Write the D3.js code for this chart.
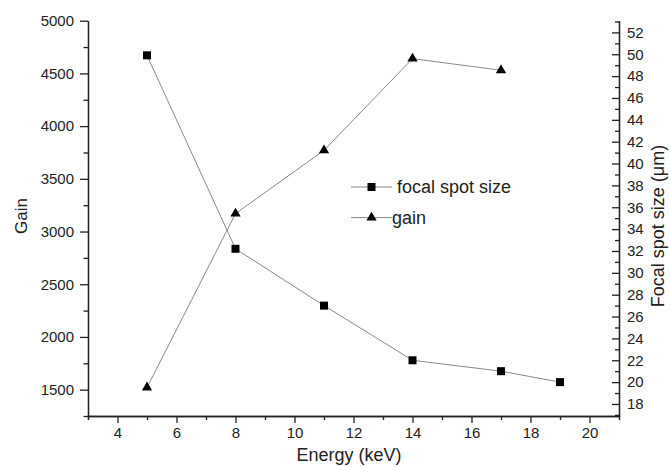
<!DOCTYPE html>
<html lang="en">
<head>
    <meta charset="UTF-8">
    <title>Gain and focal spot size vs energy</title>
    <script src="https://d3js.org/d3.v7.min.js"></script>
    <style>
        body { margin: 0; background: #fff; }
        svg { display: block; font-family: "Liberation Sans", Arial, sans-serif; }
        .axis path, .axis line { stroke: #222; stroke-width: 1.3; }
        .axis text { font-size: 15px; fill: #222; }
    </style>
</head>
<body>
    <svg width="670" height="467"></svg>

    <script>
        // Data
        const energy = [5, 8, 11, 14, 17, 19];
        const focalSize = [49.9, 32.2, 27.0, 22.0, 21.0, 20.0];
        const gainEnergy = [5, 8, 11, 14, 17];
        const gain = [1520, 3170, 3770, 4640, 4530];

        // Tick values
        const xTicks = [4, 6, 8, 10, 12, 14, 16, 18, 20];
        const xMinor = [3, 5, 7, 9, 11, 13, 15, 17, 19, 21];
        const gainTicks = [1500, 2000, 2500, 3000, 3500, 4000, 4500, 5000];
        const gainMinor = [1250, 1750, 2250, 2750, 3250, 3750, 4250, 4750];
        const focalTicks = [18, 20, 22, 24, 26, 28, 30, 32, 34, 36, 38, 40, 42, 44, 46, 48, 50, 52];
        const focalMinor = [17, 19, 21, 23, 25, 27, 29, 31, 33, 35, 37, 39, 41, 43, 45, 47, 49, 51, 53];

        const legendItems = [
            { label: " focal spot size", symbol: d3.symbolSquare, size: 64 },
            { label: "gain", symbol: d3.symbolTriangle, size: 46 }
        ];

        const margin = { left: 88, right: 619, top: 20.7, bottom: 416 };

        const x = d3.scaleLinear().domain([3, 21]).range([margin.left, margin.right]);
        const yGain = d3.scaleLinear().domain([1250, 5000]).range([margin.bottom, margin.top]);
        const yFocal = d3.scaleLinear().domain([16.9, 53.07]).range([margin.bottom, margin.top]);

        const svg = d3.select("svg");

        // x axis
        svg.append("g").attr("class", "axis")
            .attr("transform", `translate(0,${margin.bottom})`)
            .call(d3.axisBottom(x).tickValues(xMinor).tickSize(4).tickFormat(""));
        svg.append("g").attr("class", "axis")
            .attr("transform", `translate(0,${margin.bottom})`)
            .call(d3.axisBottom(x).tickValues(xTicks).tickSize(7).tickSizeOuter(0).tickPadding(4));

        // left axis (gain)
        svg.append("g").attr("class", "axis")
            .attr("transform", `translate(${margin.left},0)`)
            .call(d3.axisLeft(yGain).tickValues(gainMinor).tickSize(4.5).tickSizeOuter(0).tickFormat(""));
        svg.append("g").attr("class", "axis")
            .attr("transform", `translate(${margin.left},0)`)
            .call(d3.axisLeft(yGain).tickValues(gainTicks).tickFormat(d3.format("d"))
                .tickSize(8).tickSizeOuter(0).tickPadding(6));

        // right axis (focal spot size), ticks point inward
        svg.append("g").attr("class", "axis")
            .attr("transform", `translate(${margin.right},0)`)
            .call(d3.axisRight(yFocal).tickValues(focalMinor).tickSize(-4).tickSizeOuter(0).tickFormat(""));
        const rightAxis = svg.append("g").attr("class", "axis")
            .attr("transform", `translate(${margin.right},0)`)
            .call(d3.axisRight(yFocal).tickValues(focalTicks).tickSize(-7).tickSizeOuter(0));
        rightAxis.selectAll("text").attr("x", 8);

        // axis titles
        svg.append("text")
            .attr("transform", "translate(27,216) rotate(-90)")
            .attr("text-anchor", "middle")
            .style("font-size", "17px").style("fill", "#222")
            .text("Gain");
        svg.append("text")
            .attr("x", 349).attr("y", 461)
            .attr("text-anchor", "middle")
            .style("font-size", "18px").style("fill", "#222")
            .text("Energy (keV)");
        svg.append("text")
            .attr("transform", "translate(664,226) rotate(-90)")
            .attr("text-anchor", "middle")
            .style("font-size", "18px").style("fill", "#222")
            .text("Focal spot size (\u03bcm)");

        // lines
        const focalData = energy.map((e, i) => [e, focalSize[i]]);
        const gainData = gainEnergy.map((e, i) => [e, gain[i]]);

        svg.append("path")
            .datum(focalData)
            .attr("fill", "none").attr("stroke", "#8a8a8a").attr("stroke-width", 1)
            .attr("d", d3.line().x(d => x(d[0])).y(d => yFocal(d[1])));
        svg.append("path")
            .datum(gainData)
            .attr("fill", "none").attr("stroke", "#8a8a8a").attr("stroke-width", 1)
            .attr("d", d3.line().x(d => x(d[0])).y(d => yGain(d[1])));

        // markers
        svg.selectAll(".sq").data(focalData).enter()
            .append("path").attr("class", "sq")
            .attr("transform", d => `translate(${x(d[0])},${yFocal(d[1])})`)
            .attr("d", d3.symbol().type(d3.symbolSquare).size(64))
            .attr("fill", "#000");
        svg.selectAll(".tri").data(gainData).enter()
            .append("path").attr("class", "tri")
            .attr("transform", d => `translate(${x(d[0])},${yGain(d[1])})`)
            .attr("d", d3.symbol().type(d3.symbolTriangle).size(46))
            .attr("fill", "#000");

        // legend
        const legend = svg.append("g").attr("transform", "translate(351,187)");
        legendItems.forEach((item, i) => {
            const g = legend.append("g").attr("transform", `translate(0,${i * 30.6})`);
            g.append("line").attr("x1", 0).attr("x2", 41).attr("y1", 0).attr("y2", 0)
                .attr("stroke", "#8a8a8a").attr("stroke-width", 1);
            g.append("path").attr("transform", "translate(20.5,0)")
                .attr("d", d3.symbol().type(item.symbol).size(item.size))
                .attr("fill", "#000");
            g.append("text")
                .attr("x", 41).attr("dy", "0.35em")
                .style("font-size", "18px").style("fill", "#222")
                .attr("xml:space", "preserve")
                .text(item.label);
        });
    </script>
</body>
</html>
